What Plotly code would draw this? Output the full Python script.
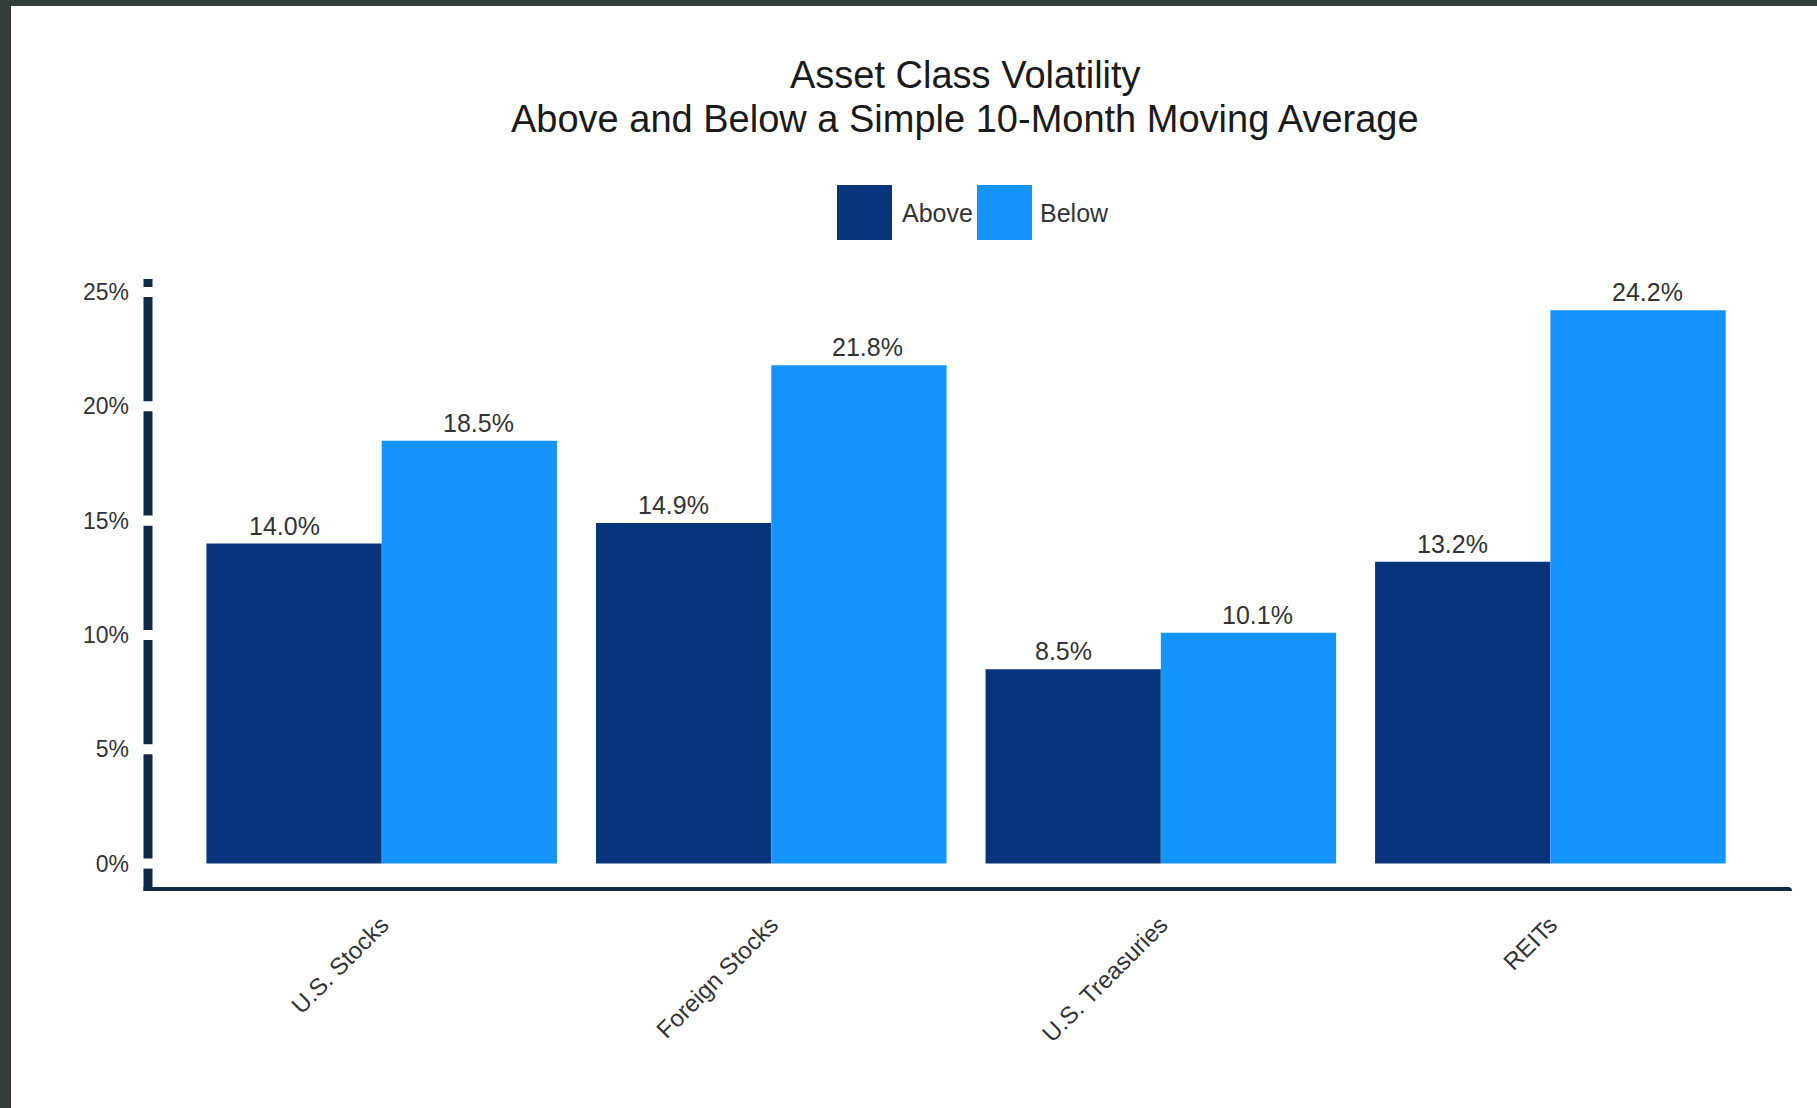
import plotly.graph_objects as go

# Volatility of each asset class when price is above / below its 10-month SMA
categories = ["U.S. Stocks", "Foreign Stocks", "U.S. Treasuries", "REITs"]
above_vals = [14.0, 14.9, 8.5, 13.2]
below_vals = [18.5, 21.8, 10.1, 24.2]
series_names = ["Above", "Below"]
y_ticks = [0, 5, 10, 15, 20, 25]
y_tick_text = ["0%", "5%", "10%", "15%", "20%", "25%"]
title_lines = ["Asset Class Volatility", "Above and Below a Simple 10-Month Moving Average"]

W, H = 1817, 1108
PLOT_L, PLOT_R, PLOT_T, PLOT_B = 148, 1788, 279, 891
Y_MIN, Y_MAX = -1.2, 25.57
BARGAP = 0.1

C_ABOVE = "#07347a"
C_BELOW = "#1594fd"
C_AXIS = "#0f2a47"
C_TEXT = "#333333"
FONT = "Liberation Sans"


def px_x(p):
    return (p - PLOT_L) / (PLOT_R - PLOT_L)


def px_y(p):
    return (PLOT_B - p) / (PLOT_B - PLOT_T)


fig = go.Figure()
series = [(series_names[0], above_vals, C_ABOVE), (series_names[1], below_vals, C_BELOW)]
for name, vals, col in series:
    fig.add_trace(go.Bar(
        name=name, x=categories, y=vals, marker=dict(color=col, line=dict(width=0)),
        showlegend=False,
    ))

annotations = []
# value labels above each bar, nudged outward from the group centre
bar_w = (1 - BARGAP) / len(series)
for k, (name, vals, col) in enumerate(series):
    off = (k - (len(series) - 1) / 2) * bar_w
    nudge = -10 if k == 0 else 9
    for i, v in enumerate(vals):
        annotations.append(dict(xref="x", yref="y", x=i + off, y=v, xshift=nudge,
                                yshift=2, xanchor="center", yanchor="bottom",
                                showarrow=False, text=f"{v:.1f}%",
                                font=dict(size=25, color=C_TEXT, family=FONT)))

# two-line chart title
for line, cy in zip(title_lines, [75, 119]):
    annotations.append(dict(xref="paper", yref="paper", x=px_x(965), y=px_y(cy),
                            xanchor="center", yanchor="middle", showarrow=False,
                            text=line, font=dict(size=38, color="#1a1a1a", family=FONT)))

shapes = []
# dark frame along the top and left edges of the page
shapes.append(dict(type="rect", xref="paper", yref="paper",
                   x0=px_x(0), x1=px_x(11), y0=px_y(H), y1=px_y(0),
                   fillcolor="#353d3d", line=dict(width=0), layer="below"))
shapes.append(dict(type="rect", xref="paper", yref="paper",
                   x0=px_x(0), x1=px_x(W), y0=px_y(6), y1=px_y(0),
                   fillcolor="#353d3d", line=dict(width=0), layer="below"))

# y axis drawn as segments broken at each tick
gap = 0.22
stops = [Y_MIN] + [v for t in y_ticks for v in (t - gap, t + gap)] + [Y_MAX]
for a, b in zip(stops[0::2], stops[1::2]):
    shapes.append(dict(type="line", xref="paper", yref="y", x0=0, x1=0, y0=a, y1=b,
                       line=dict(color=C_AXIS, width=9)))
# x axis baseline
shapes.append(dict(type="line", xref="paper", yref="y", x0=-0.0027, x1=1, y0=Y_MIN, y1=Y_MIN,
                   line=dict(color=C_AXIS, width=8)))
# rounded end of the baseline
shapes.append(dict(type="circle", xref="paper", yref="y", xsizemode="pixel", ysizemode="pixel",
                   xanchor=1, yanchor=Y_MIN, x0=-4, x1=4, y0=-4, y1=4,
                   fillcolor=C_AXIS, line=dict(width=0)))

# legend swatches
legend_items = [(series_names[0], C_ABOVE, 837, 900), (series_names[1], C_BELOW, 977, 1038)]
for name, col, bx, tx in legend_items:
    shapes.append(dict(type="rect", xref="paper", yref="paper",
                       x0=px_x(bx), x1=px_x(bx + 55), y0=px_y(240), y1=px_y(185),
                       fillcolor=col, line=dict(width=0)))
    annotations.append(dict(xref="paper", yref="paper", x=px_x(tx), y=px_y(213),
                            xanchor="left", yanchor="middle", showarrow=False,
                            text=name, font=dict(size=25, color=C_TEXT, family=FONT)))

fig.update_layout(
    width=W, height=H,
    margin=dict(l=PLOT_L, r=W - PLOT_R, t=PLOT_T, b=H - PLOT_B, pad=0),
    paper_bgcolor="white", plot_bgcolor="white",
    barmode="group", bargap=BARGAP, bargroupgap=0,
    xaxis=dict(range=[-0.6, 3.61], showgrid=False, zeroline=False, showline=False,
               tickangle=-45, ticks="", ticklabelstandoff=14,
               tickfont=dict(size=24, color=C_TEXT, family=FONT)),
    yaxis=dict(range=[Y_MIN, Y_MAX], showgrid=False, zeroline=False, showline=False,
               tickvals=y_ticks, ticktext=y_tick_text, ticks="", ticklabelstandoff=18,
               tickfont=dict(size=23, color=C_TEXT, family=FONT)),
    shapes=shapes, annotations=annotations,
    font=dict(family=FONT, color=C_TEXT),
)

fig.write_html("out.html")
